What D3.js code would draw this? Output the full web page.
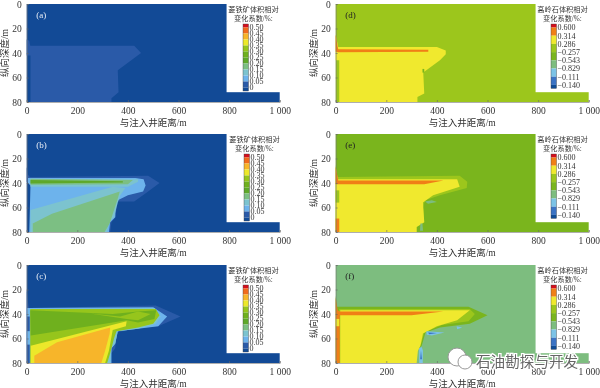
<!DOCTYPE html>
<html><head><meta charset="utf-8">
<script src="https://cdn.jsdelivr.net/npm/d3@7"></script>
<style>html,body{margin:0;background:#fff}svg{display:block;filter:blur(0.35px)}
text{font-family:"Liberation Serif","Noto Sans CJK SC",serif;fill:#333}</style></head>
<body><svg id="c" width="600" height="388"></svg>
<script>
// axis tick values
const xTicks = [0,200,400,600,800,1000];
const yTicks = [0,20,40,60,80];
const xTickLabels = ["0","200","400","600","800","1 000"];
// legends
const leftLegendLabels = ["0.50","0.45","0.40","0.35","0.30","0.25","0.20","0.15","0.10","0.05","0"];
const rightLegendLabels = ["0.600","0.314","0.286","−0.257","−0.543","−0.829","−0.111","−0.140"];
const leftTitle = ["菱铁矿体积相对","变化系数/%:"];
const rightTitle = ["高岭石体积相对","变化系数/%:"];
// contour bands, lowest colour class first (band index, outline as [distance m, depth m])
const panelA = [
 [0,[[0,0],[1000,0],[1000,80],[0,80]]],
 [1,[[0,29],[10,30],[14,34],[425,34],[452,40],[360,54],[363,72],[335,77],[335,80],[15,80],[15,42],[0,42]]]
];
const panelB = [
 [0,[[0,0],[1000,0],[1000,80],[0,80]]],
 [1,[[0,27],[5,33],[12,35],[480,34],[525,40],[480,47],[425,55],[370,55],[360,55],[350,68],[335,72],[330,80],[15,80],[15,41],[0,39]]],
 [2,[[5,36],[15,36],[430,36],[462,37],[470,42],[460,47],[400,50],[360,54],[352,55],[350,68],[330,72],[325,80],[10,80],[15,42],[5,40]]],
 [3,[[15,80],[15,62],[340,43],[390,44],[370,50],[360,56],[345,68],[325,72],[318,80]]],
 [3,[[15,36.5],[440,37],[440,39],[400,43],[15,43]]],
 [4,[[24,80],[24,73],[100,65],[368,47],[361,52],[328,73],[308,80]]],
 [4,[[15,36.5],[420,37.5],[400,41],[15,41.5]]],
 [5,[[15,37.5],[380,38.5],[380,39.5],[15,40.5]]]
];
const panelC = [
 [0,[[0,0],[1000,0],[1000,80],[0,80]]],
 [1,[[0,20],[8,35],[510,33],[608,42],[520,50],[420,52],[355,55],[350,68],[335,72],[330,80],[0,80]]],
 [2,[[8,35],[500,34.5],[555,42],[520,50],[440,52],[360,54],[350,64],[335,68],[335,80],[15,80],[15,42],[0,42],[0,35]]],
 [2,[[0,54],[15,54],[15,65],[0,65]]],
 [3,[[12,36],[505,35],[530,42],[510,48],[440,52],[360,54],[350,64],[335,68],[330,80],[12,80]]],
 [7,[[14,36],[510,36],[525,41],[500,48],[440,51],[355,54],[345,60],[330,72],[318,80],[14,80]]],
 [6,[[14,37],[340,40],[440,38],[512,37],[505,44],[440,47],[395,45],[16,57.5]]],
 [7,[[250,39.5],[370,42],[440,38],[490,40],[440,45],[395,44]]],
 [8,[[16,80],[16,66],[395,46],[392,50],[340,53],[325,70],[310,80]]],
 [9,[[30,80],[30,74],[120,63],[330,51],[328,56],[310,70],[295,80]]]
];
const panelD = [
 [5,[[0,0],[1000,0],[1000,80],[0,80]]],
 [6,[[0,25],[10,35],[400,35],[435,38],[435,41],[412,46],[346,56],[350,73],[323,76],[323,80],[14,80],[14,46],[0,46]]],
 [7,[[0,25],[8,35],[10,37],[366,37.3],[366,39],[10,39.4],[0,39]]],
 [4,[[343,53],[350,53],[350,56],[343,56]]]
];
const panelE = [
 [4,[[0,0],[1000,0],[1000,80],[0,80]]],
 [5,[[0,25],[5,35],[490,34],[520,39],[518,44],[412,50],[353,54],[345,60],[350,72],[320,76],[320,80],[0,80]]],
 [6,[[0,27],[8,37],[480,37],[490,43],[385,50],[345,56],[350,72],[320,76],[320,80],[0,80]]],
 [7,[[0,27],[10,37.5],[10,38],[426,38],[350,41],[10,41],[0,41]]],
 [5,[[0,46],[14,46],[14,56],[0,56]]],
 [7,[[0,69],[14,69],[14,80],[0,80]]],
 [3,[[353,55],[380,54],[400,55.5],[365,57]]],
 [3,[[333,79],[335,73],[343,73],[345,79]]]
];
const panelF = [
 [3,[[0,0],[1000,0],[1000,80],[0,80]]],
 [4,[[0,25],[5,34],[525,34],[600,41],[530,48],[412,51],[355,55],[340,66],[318,70],[318,80],[0,80]]],
 [5,[[14,36],[530,36],[550,40],[525,46],[420,49],[350,55],[338,64],[318,68],[318,80],[14,80]]],
 [6,[[18,37],[530,37],[480,45],[400,50],[345,56],[335,66],[325,70],[320,80],[18,80]]],
 [7,[[0,27],[8,37],[16,38],[425,38],[300,41],[16,41],[16,80],[0,80]]],
 [6,[[0,44],[14,44],[14,50],[0,50]]],
 [2,[[358,54],[430,55],[380,57.5],[360,57]]],
 [2,[[478,50],[500,51],[480,52.5]]],
 [2,[[330,80],[330,68],[340,67],[345,70],[344,80]]],
 [1,[[334,77],[337,70],[341,77]]],
 [1,[[365,55],[400,55.5],[370,56.5]]]
];
const leftColors = ["#124a96","#2a5aa8","#6db3ec","#7cc3cf","#7cbf83","#5ea82a","#6fb01e","#96c51c","#ece82a","#f7b52a","#f06a1c","#d40f1c"];
const rightColors = ["#0f4c96","#3b73c4","#7cc3e6","#7dbd7f","#7ab51d","#9cc61c","#f0e92e","#f07f16","#d40f1c"];

const svg = d3.select("#c");
const W = 253, H = 98;
const panels = [
 {n:"(a)",x:26.7,y:4,d:panelA,c:leftColors,l:leftLegendLabels,t:leftTitle,dx:0},
 {n:"(b)",x:26.7,y:134,d:panelB,c:leftColors,l:leftLegendLabels,t:leftTitle,dx:1},
 {n:"(c)",x:26.7,y:265,d:panelC,c:leftColors,l:leftLegendLabels,t:leftTitle,dx:0},
 {n:"(d)",x:335.7,y:4,d:panelD,c:rightColors,l:rightLegendLabels,t:rightTitle,dx:0},
 {n:"(e)",x:335.7,y:134,d:panelE,c:rightColors,l:rightLegendLabels,t:rightTitle,dx:0},
 {n:"(f)",x:335.7,y:265,d:panelF,c:rightColors,l:rightLegendLabels,t:rightTitle,dx:0}
];
panels.forEach(p=>{
 const left = p.c===leftColors;
 const g = svg.append("g").attr("transform",`translate(${p.x},${p.y})`);
 const x = d3.scaleLinear().domain([0,1000]).range([0,W]);
 const y = d3.scaleLinear().domain([0,80]).range([0,H]);
 const color = d3.scaleOrdinal(d3.range(p.c.length),p.c);
 const line = d3.line().x(d=>x(d[0])).y(d=>y(d[1])).curve(d3.curveLinearClosed);
 g.selectAll("path.band").data(p.d).join("path").attr("class","band")
  .attr("d",d=>line(d[1])).attr("fill",d=>color(d[0]));
 // legend blank area
 g.append("rect").attr("x",x(790)).attr("y",-1).attr("width",x(1000)-x(790)+2).attr("height",y(72)+1).attr("fill","#fff");
 const ax = g.append("g").attr("transform",`translate(0,${H})`)
   .call(d3.axisBottom(x).tickValues(xTicks).tickSize(-2).tickPadding(5).tickFormat((d,i)=>xTickLabels[i]));
 const ay = g.append("g").call(d3.axisLeft(y).tickValues(yTicks).tickSize(-2).tickPadding(5));
 [ax,ay].forEach(a=>{
  a.selectAll("text").style("font-size","9.5px").style("font-family",'"Liberation Serif"').attr("fill","#333");
  a.selectAll("line").attr("stroke","#666").attr("stroke-width",.6);
  a.select(".domain").attr("stroke","#777").attr("stroke-width",.6);
 });
 g.append("text").attr("x",W/2).attr("y",H+23.5).attr("text-anchor","middle").style("font-size","9.5px").text("与注入井距离/m");
 g.append("text").attr("transform",`translate(-18.5,${H/2}) rotate(-90)`).attr("text-anchor","middle").style("font-size","9.5px").text("纵向深度/m");
 g.append("text").attr("x",9.5).attr("y",14).style("font-size","9px").style("fill",left?"#e8eef6":"#222").text(p.n);
 // legend
 const lx = (left?243:551) - p.x + p.dx, top = 20;
 const st = left?6:8.2, ly0 = 23.5;
 const ly = d3.scaleLinear().domain([0,p.l.length-1]).range([ly0,ly0+st*(p.l.length-1)]);
 const n = p.c.length;
 for(let i=0;i<n;i++){
  const k = n-1-i; // top swatch first
  const y0 = i===0 ? top : ly(i-1), y1 = i===n-1 ? ly(p.l.length-1)+3.5 : ly(i);
  g.append("rect").attr("x",lx).attr("y",y0).attr("width",5.5).attr("height",y1-y0).attr("fill",p.c[k]);
 }
 g.append("rect").attr("x",lx).attr("y",top).attr("width",5.5).attr("height",ly(p.l.length-1)+3.5-top).attr("fill","none").attr("stroke","#444").attr("stroke-width",.4);
 g.selectAll("text.ll").data(p.l).join("text").attr("class","ll").attr("x",lx+6.5).attr("y",(d,i)=>ly(i)+2.8).style("font-size","8px").text(d=>d);
 const cx = lx+(left?10.5:11.5);
 p.t.forEach((t,i)=>g.append("text").attr("x",cx).attr("y",8+i*9).attr("text-anchor","middle").style("font-size","7.2px").text(t));
});
// watermark
const wm = svg.append("g");
wm.append("circle").attr("cx",457).attr("cy",357).attr("r",9).attr("fill","#fff").attr("stroke","#999").attr("stroke-width",1);
wm.append("circle").attr("cx",465).attr("cy",362).attr("r",7).attr("fill","#fff").attr("stroke","#999").attr("stroke-width",1);
wm.append("text").attr("x",476).attr("y",367).attr("paint-order","stroke").attr("stroke","#fff").attr("stroke-width",2.5)
  .style("font-size","14.6px").style("font-family",'"Noto Sans CJK SC"').style("fill","#666").text("石油勘探与开发");
</script></body></html>
